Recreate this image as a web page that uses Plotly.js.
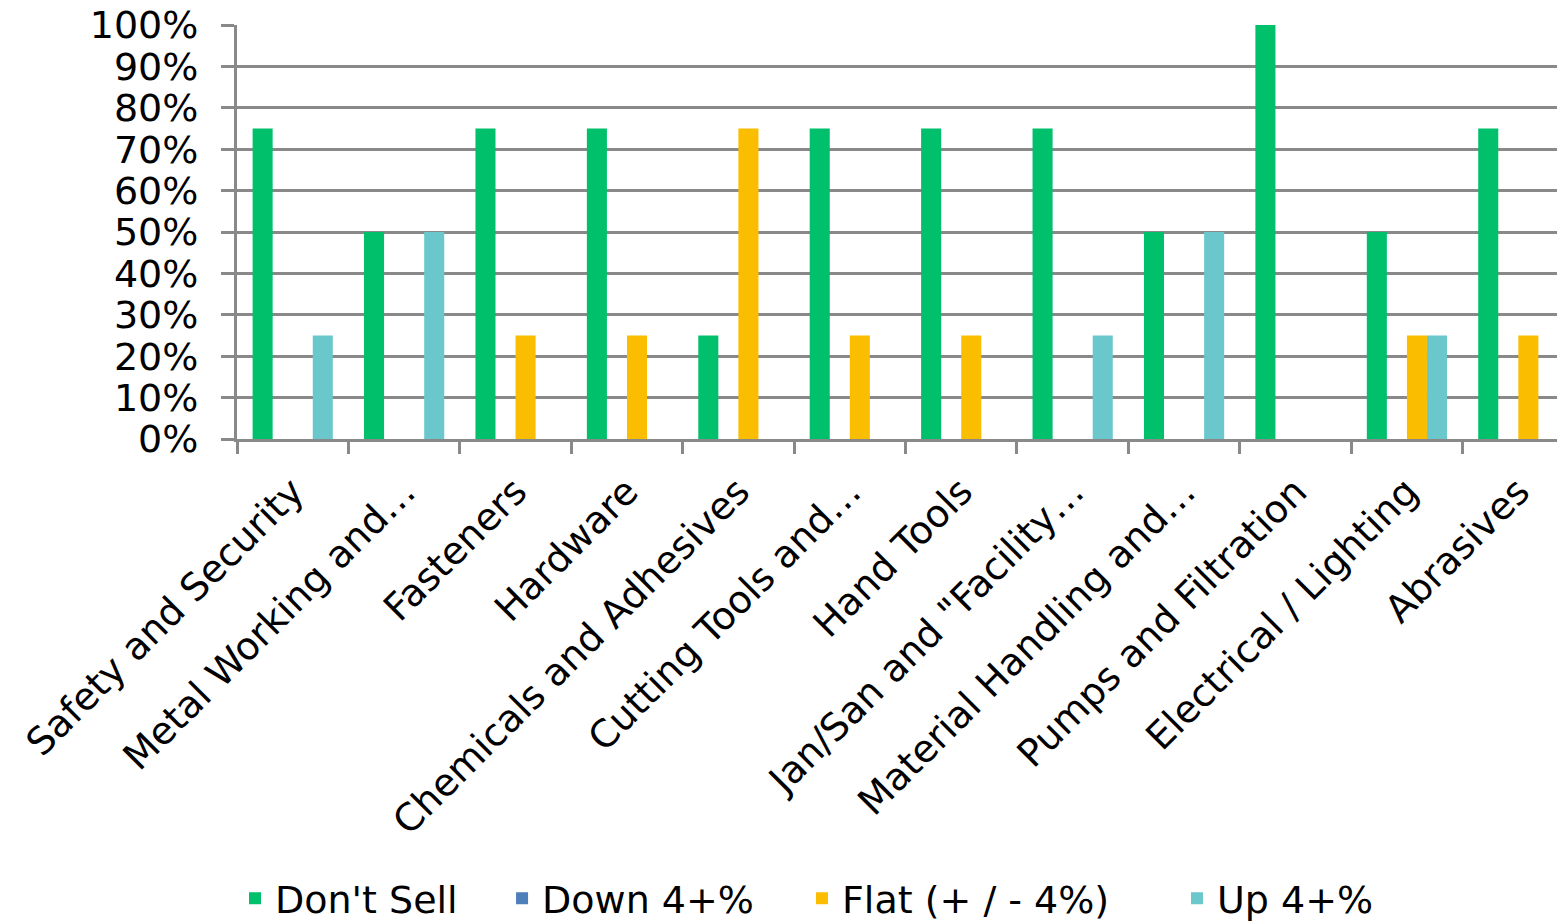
<!DOCTYPE html>
<html>
<head>
<meta charset="utf-8">
<script src="https://cdn.plot.ly/plotly-3.0.1.min.js"></script>
<style>
  html, body { margin: 0; padding: 0; background: #fff; overflow: hidden; }
  #chart { width: 1557px; height: 923px; }
</style>
</head>
<body>
<div id="chart"></div>
<script>
// Product categories along the x axis
const categories = [
  "Safety and Security",
  "Metal Working and…",
  "Fasteners",
  "Hardware",
  "Chemicals and Adhesives",
  "Cutting Tools and…",
  "Hand Tools",
  "Jan/San and \"Facility…",
  "Material Handling and…",
  "Pumps and Filtration",
  "Electrical / Lighting",
  "Abrasives"
];

// Share of respondents per category (fractions)
const dontSell = [0.75, 0.50, 0.75, 0.75, 0.25, 0.75, 0.75, 0.75, 0.50, 1.00, 0.50, 0.75];
const down4    = [0, 0, 0, 0, 0, 0, 0, 0, 0, 0, 0, 0];
const flat4    = [0, 0, 0.25, 0.25, 0.75, 0.25, 0.25, 0, 0, 0, 0.25, 0.25];
const up4      = [0.25, 0.50, 0, 0, 0, 0, 0, 0.25, 0.50, 0, 0.25, 0];

const seriesNames = ["Don't Sell", "Down 4+%", "Flat (+ / - 4%)", "Up 4+%"];
const seriesColors = ["#00C06C", "#4F7FBB", "#FBBD00", "#6AC8CC"];
const seriesValues = [dontSell, down4, flat4, up4];

const FONT = "DejaVu Sans, Verdana, sans-serif";
const GRID = "#898989";

// each series gets its own one-item legend so the entries can be spaced freely
const legendIds = ["legend", "legend2", "legend3", "legend4"];
const legendX = [-0.0015, 0.2008, 0.4280, 0.7121];

const traces = seriesValues.map((vals, i) => ({
  type: "bar",
  name: seriesNames[i],
  x: categories,
  y: vals,
  legend: legendIds[i],
  marker: { color: seriesColors[i], line: { width: 0 } },
  hoverinfo: "x+y+name"
}));

function legendBox(x) {
  return {
    orientation: "h",
    x: x,
    xanchor: "left",
    y: -1.11,
    yanchor: "middle",
    font: { family: FONT, size: 38, color: "#000000" },
    bgcolor: "rgba(0,0,0,0)",
    borderwidth: 0
  };
}

const layout = {
  width: 1557,
  height: 923,
  margin: { l: 237, r: 0, t: 25, b: 484, pad: 0, autoexpand: false },
  paper_bgcolor: "#ffffff",
  plot_bgcolor: "#ffffff",
  barmode: "group",
  bargap: 0.28,
  bargroupgap: 0,
  font: { family: FONT, size: 38, color: "#000000" },
  showlegend: true,
  xaxis: {
    type: "category",
    range: [-0.5, 11.347],
    tickson: "boundaries",
    ticks: "outside",
    ticklen: 12,
    tickwidth: 3,
    tickcolor: GRID,
    showgrid: false,
    showline: true,
    linecolor: GRID,
    linewidth: 3,
    tickangle: -45,
    ticklabelstandoff: 12,
    tickfont: { family: FONT, size: 38, color: "#000000" },
    fixedrange: true,
    automargin: false
  },
  yaxis: {
    range: [0, 1],
    dtick: 0.1,
    tick0: 0,
    tickformat: ".0%",
    ticks: "outside",
    ticklen: 13,
    tickwidth: 3,
    tickcolor: GRID,
    showgrid: true,
    gridcolor: GRID,
    gridwidth: 3,
    zeroline: false,
    showline: true,
    linecolor: GRID,
    linewidth: 3,
    ticklabelstandoff: 15,
    tickfont: { family: FONT, size: 38, color: "#000000" },
    fixedrange: true,
    automargin: false
  }
};
legendIds.forEach((id, i) => { layout[id] = legendBox(legendX[i]); });

Plotly.newPlot("chart", traces, layout, { displayModeBar: false, staticPlot: true });
</script>
</body>
</html>
